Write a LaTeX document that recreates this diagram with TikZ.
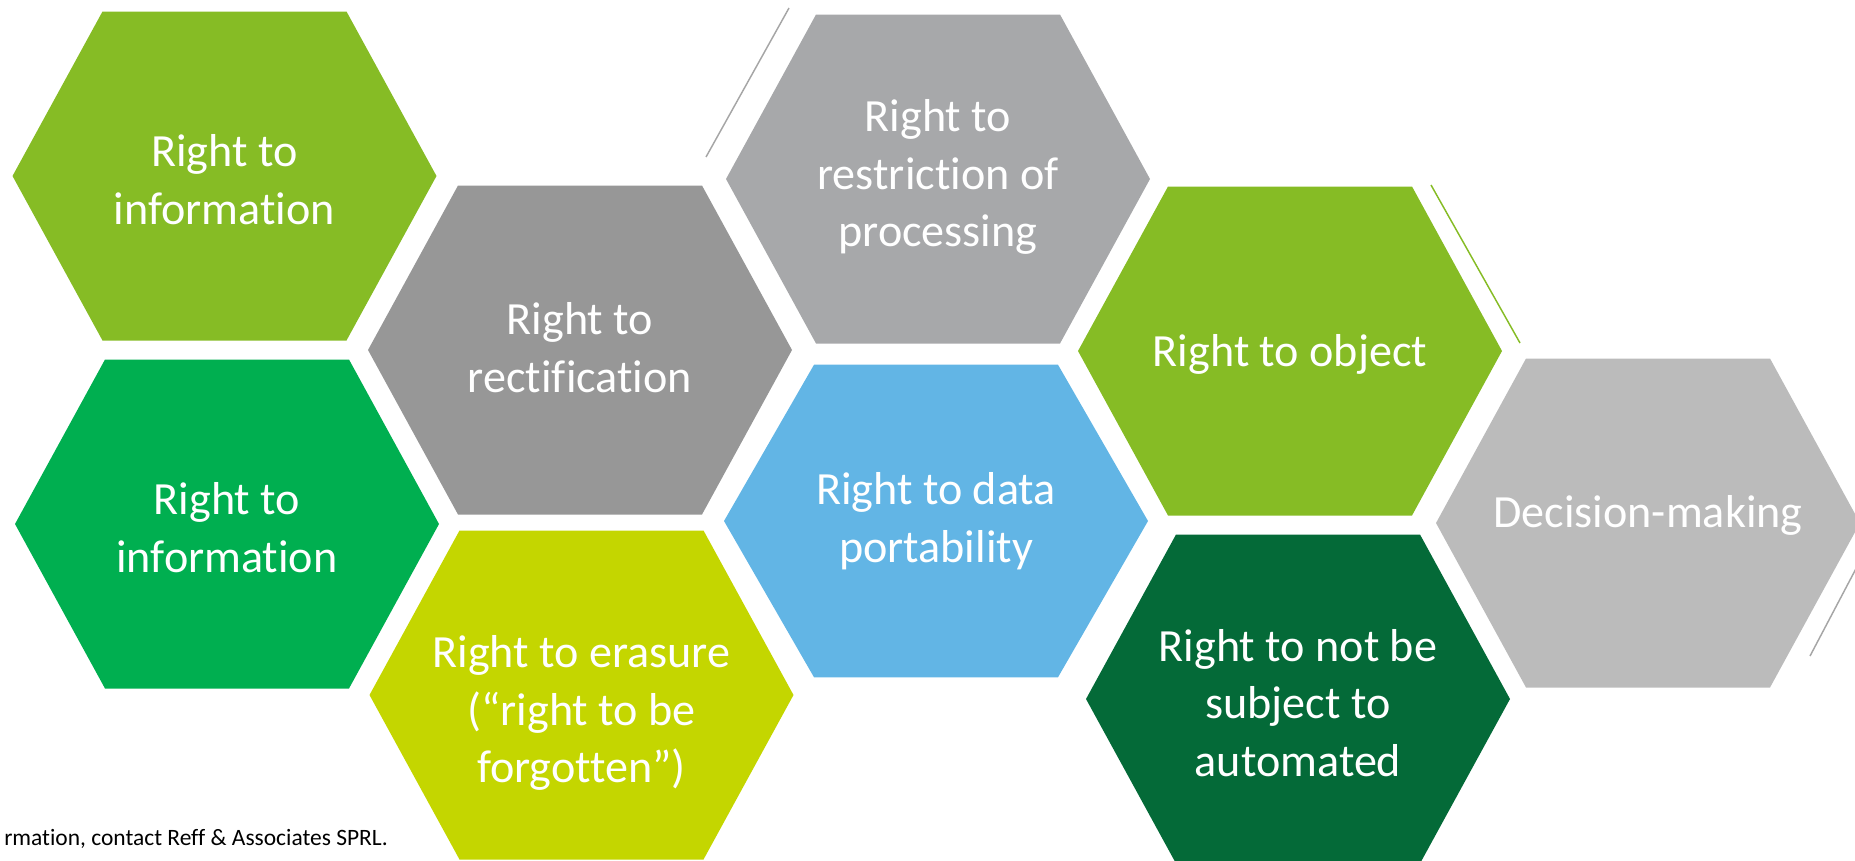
\documentclass[tikz,border=0pt]{standalone}
\usepackage{fontspec}
\setmainfont{Carlito}[Ligatures=NoCommon]
\definecolor{Gfill}{RGB}{134,188,37}
\definecolor{GGfill}{RGB}{0,175,80}
\definecolor{DGfill}{RGB}{4,106,56}
\definecolor{Lfill}{RGB}{196,214,0}
\definecolor{Bfill}{RGB}{98,181,229}
\definecolor{Kfill}{RGB}{151,151,151}
\definecolor{KKfill}{RGB}{167,168,170}
\definecolor{LKfill}{RGB}{187,187,187}
\definecolor{Kline}{RGB}{166,166,166}

\tikzset{
  hexcell/.pic={\fill (-212,0) -- (-122,-164.5) -- (122,-164.5) -- (212,0) -- (122,164.5) -- (-122,164.5) -- cycle;},
  celltext/.style={align=center,text=white,inner sep=0pt,font=\fontsize{34.6}{43.3}\selectfont},
  notetext/.style={inner sep=0pt,font=\fontsize{17.6}{20}\selectfont},
}

\begin{document}
\begin{tikzpicture}[x=0.75pt,y=-0.75pt]
\path[use as bounding box] (0,0) rectangle (1855,860);
% hexagons, column by column
\pic[fill=Gfill] at (224.5,176) {hexcell};
\pic[fill=GGfill] at (227,524) {hexcell};
\pic[fill=Kfill] at (580,350) {hexcell};
\pic[fill=Lfill] at (581.5,695) {hexcell};
\pic[fill=KKfill] at (938,179) {hexcell};
\pic[fill=Bfill,yscale=0.95] at (936,521) {hexcell};
\pic[fill=Gfill] at (1290,351) {hexcell};
\pic[fill=DGfill] at (1298,699) {hexcell};
\pic[fill=LKfill] at (1648,523) {hexcell};
% thin strokes beside the cells
\draw[Kline,line width=1.1pt] (789,8) -- (706,157);
\draw[Gfill,line width=1.1pt] (1431,185) -- (1520,343);
\draw[Kline,line width=1.1pt] (1860,561) -- (1810,656);
% labels
\node[celltext] (info1) at (224.5,180) {Right to\\information};
\node[celltext] (info2) at (227,528) {Right to\\information};
\node[celltext] (rectif) at (580,348) {Right to\\rectification};
\node[celltext] (erase) at (581.5,713) {Right to erasure\\(“right to be\\forgotten”)};
\node[celltext] (restrict) at (938,177) {Right to\\restriction of\\processing};
\node[celltext] (portab) at (936,521) {Right to data\\portability};
\node[celltext] (objectr) at (1290,354) {Right to object};
\node[celltext] (notsubj) at (1298,703) {Right to not be\\subject to\\automated};
\node[celltext] (decision) at (1648,515) {Decision-making};
\node[notetext,anchor=base west] (footer) at (4,845) {rmation, contact Reff \& Associates SPRL.};
\end{tikzpicture}
\end{document}
